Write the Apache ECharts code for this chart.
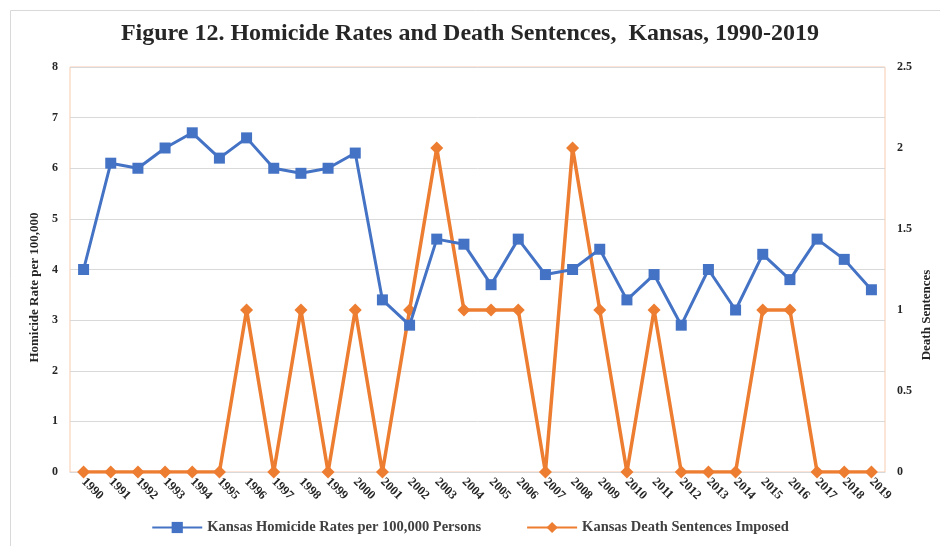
<!DOCTYPE html>
<html>
<head>
<meta charset="utf-8">
<script src="https://cdn.jsdelivr.net/npm/echarts@6/dist/echarts.min.js"></script>
<style>
  html, body { margin: 0; padding: 0; background: #fff; }
  #main { width: 940px; height: 546px; }
</style>
</head>
<body>
<div id="main"></div>
<script>
// 年份
const years = ['1990','1991','1992','1993','1994','1995','1996','1997','1998','1999',
  '2000','2001','2002','2003','2004','2005','2006','2007','2008','2009',
  '2010','2011','2012','2013','2014','2015','2016','2017','2018','2019'];
// 每10万人凶杀率
const homicideRates = [4.0, 6.1, 6.0, 6.4, 6.7, 6.2, 6.6, 6.0, 5.9, 6.0,
  6.3, 3.4, 2.9, 4.6, 4.5, 3.7, 4.6, 3.9, 4.0, 4.4,
  3.4, 3.9, 2.9, 4.0, 3.2, 4.3, 3.8, 4.6, 4.2, 3.6];
// 死刑判决数
const deathSentences = [0, 0, 0, 0, 0, 0, 1, 0, 1, 0,
  1, 0, 1, 2, 1, 1, 1, 0, 2, 1,
  0, 1, 0, 0, 0, 1, 1, 0, 0, 0];

const serif = '"Liberation Serif", "DejaVu Serif", serif';
const blue = '#4472C4';
const orange = '#ED7D31';

let myChart = echarts.init(document.getElementById('main'));
myChart.setOption({
    animation: false,
    title: {
        text: 'Figure 12. Homicide Rates and Death Sentences,  Kansas, 1990-2019',
        left: 'center',
        top: 17,
        textStyle: { fontFamily: serif, fontWeight: 'bold', fontSize: 24, color: '#262626' }
    },
    graphic: [
        {
            type: 'rect', left: 8, top: 8, silent: true,
            shape: { width: 940, height: 546 },
            style: { fill: 'none', stroke: '#d9d9d9', lineWidth: 1 }
        },
        {
            type: 'text', x: 927, y: 315, rotation: Math.PI / 2,
            style: {
                text: 'Death Sentences', fontFamily: serif, fontWeight: 'bold', fontSize: 13,
                fill: '#262626', align: 'center', verticalAlign: 'middle'
            }
        }
    ],
    legend: {
        bottom: 6,
        left: 'center',
        itemGap: 45,
        itemWidth: 50,
        itemHeight: 14,
        textStyle: { fontFamily: serif, fontWeight: 'bold', fontSize: 14.5, color: '#404040' },
        data: ['Kansas Homicide Rates per 100,000 Persons', 'Kansas Death Sentences Imposed']
    },
    grid: {
        left: 70, right: 55, top: 67, bottom: 74,
        show: true, borderColor: '#F8CBAD', borderWidth: 1
    },
    xAxis: {
        type: 'category',
        data: years,
        boundaryGap: true,
        axisLine: { lineStyle: { color: '#d9d9d9' } },
        axisTick: { show: false },
        axisLabel: {
            rotate: -45, interval: 0, margin: 8,
            fontFamily: serif, fontWeight: 'bold', fontSize: 12.5, color: '#262626'
        }
    },
    yAxis: [
        {
            type: 'value', min: 0, max: 8, interval: 1,
            name: 'Homicide Rate per 100,000',
            nameLocation: 'middle', nameGap: 28, nameRotate: 90,
            nameTextStyle: { fontFamily: serif, fontWeight: 'bold', fontSize: 13, color: '#262626', padding: [0, 0, 0, -36] },
            axisLine: { show: false },
            axisTick: { show: false },
            splitLine: { lineStyle: { color: '#d9d9d9' } },
            axisLabel: { fontFamily: serif, fontWeight: 'bold', fontSize: 12, color: '#262626', margin: 12 }
        },
        {
            type: 'value', min: 0, max: 2.5, interval: 0.5,
            position: 'right',
            axisLine: { show: false },
            axisTick: { show: false },
            splitLine: { show: false },
            axisLabel: { fontFamily: serif, fontWeight: 'bold', fontSize: 12, color: '#262626', margin: 12 }
        }
    ],
    series: [
        {
            name: 'Kansas Homicide Rates per 100,000 Persons',
            type: 'line',
            yAxisIndex: 0,
            data: homicideRates,
            symbol: 'rect',
            symbolSize: 11,
            z: 3,
            lineStyle: { color: blue, width: 3 },
            itemStyle: { color: blue }
        },
        {
            name: 'Kansas Death Sentences Imposed',
            type: 'line',
            yAxisIndex: 1,
            data: deathSentences,
            symbol: 'diamond',
            symbolSize: 13,
            z: 2,
            lineStyle: { color: orange, width: 3.5 },
            itemStyle: { color: orange }
        }
    ]
});
</script>
</body>
</html>
